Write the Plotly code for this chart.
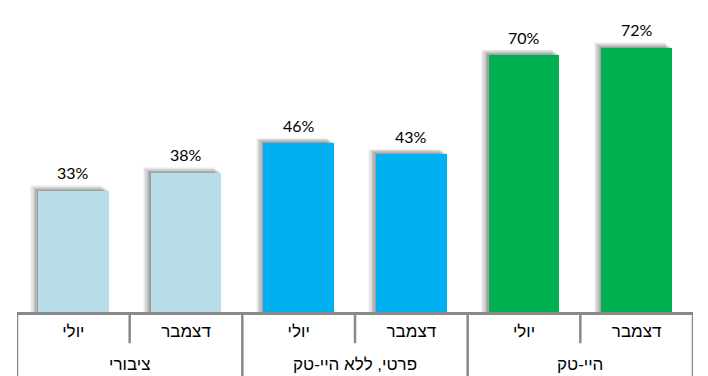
import plotly.graph_objects as go

groups = ["ציבורי", "פרטי, ללא היי-טק", "היי-טק"]
months = ["יולי", "דצמבר", "יולי", "דצמבר", "יולי", "דצמבר"]
values = [33, 38, 46, 43, 70, 72]
colors = ["#B7DDE8", "#B7DDE8", "#00B0F0", "#00B0F0", "#00B050", "#00B050"]

xs = list(range(len(values)))
bw = 0.63

fig = go.Figure()

# soft shadow layers (up-left), approximating a blurred drop shadow
layers = [(0.068, 1.5, 0.04), (0.057, 1.25, 0.055), (0.046, 1.0, 0.07),
          (0.034, 0.75, 0.08), (0.023, 0.5, 0.09), (0.011, 0.25, 0.10)]
for s, dy, a in layers:
    fig.add_trace(go.Bar(
        x=xs, y=[v + dy for v in values], width=bw, offset=-bw / 2 - s,
        marker=dict(color=f"rgba(0,0,0,{a})", line=dict(width=0)),
        hoverinfo="skip", showlegend=False))

fig.add_trace(go.Bar(
    x=xs, y=values, width=bw, offset=-bw / 2,
    marker=dict(color=colors, line=dict(width=0)),
    hoverinfo="skip", showlegend=False))

annotations = []
for i, v in enumerate(values):
    annotations.append(dict(x=i, y=v, xref="x", yref="y", text=f"{v}%",
                            showarrow=False, yshift=18, yanchor="middle",
                            font=dict(family="Lato, Liberation Sans", size=16, color="#000000")))

for g, name in enumerate(groups):
    annotations.append(dict(x=2 * g + 0.5, y=-0.168, xref="x", yref="paper",
                            text=name, showarrow=False,
                            font=dict(family="Liberation Sans, Arial", size=17, color="#000000"),
                            yanchor="middle"))

shapes = []
for i in range(len(values) + 1):
    xv = i - 0.5
    long_line = (i % 2 == 0)
    shapes.append(dict(type="line", xref="x", yref="paper", x0=xv, x1=xv,
                       y0=0, y1=(-0.21 if long_line else -0.10),
                       line=dict(color="#898989", width=2.5)))

fig.update_layout(
    width=708, height=376,
    margin=dict(l=17, r=15, t=0, b=64, autoexpand=False),
    paper_bgcolor="white", plot_bgcolor="white",
    barmode="overlay", bargap=0,
    shapes=shapes, annotations=annotations,
    xaxis=dict(range=[-0.5, 5.5], tickvals=xs, ticktext=months,
               showgrid=False, zeroline=False, showline=True, automargin=False,
               linecolor="#898989", linewidth=2.5, ticks="", ticklabelstandoff=2,
               tickfont=dict(family="Liberation Sans, Arial", size=17, color="#000000"),
               fixedrange=True),
    yaxis=dict(range=[0, 85], visible=False, showgrid=False, fixedrange=True,
               automargin=False),
)

fig.write_html("out.html", config={"displayModeBar": False},
               post_script="document.body.style.margin='0';document.body.style.overflow='hidden';")
